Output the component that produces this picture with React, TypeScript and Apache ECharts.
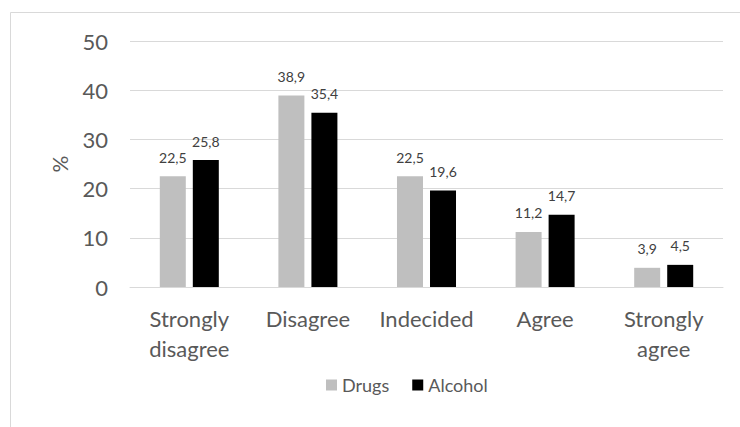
import React, { useEffect, useRef } from "react";
import * as echarts from "echarts";

const categories = ["Strongly\ndisagree", "Disagree", "Indecided", "Agree", "Strongly\nagree"];
const drugs = [22.5, 38.9, 22.5, 11.2, 3.9];
const alcohol = [25.8, 35.4, 19.6, 14.7, 4.5];
const seriesNames = ["Drugs", "Alcohol"];

const FONT = "Lato, 'Open Sans', sans-serif";

export default function App() {
  const ref = useRef<HTMLDivElement>(null);
  useEffect(() => {
    if (!ref.current) return;
    const chart = echarts.init(ref.current, undefined, { renderer: "svg" });
    const fmt = (p: any) => String(p.value).replace(".", ",");
    const labelStyle = {
      show: true,
      position: "top",
      distance: 12,
      fontSize: 14,
      color: "#404040",
      formatter: fmt,
      fontFamily: FONT,
    };
    chart.setOption({
      animation: false,
      backgroundColor: "#ffffff",
      textStyle: { fontFamily: FONT },
      graphic: [
        {
          type: "rect",
          shape: { x: 10.5, y: 12.5, width: 740, height: 430 },
          style: { fill: "none", stroke: "#D9D9D9", lineWidth: 1 },
          silent: true,
        },
      ],
      grid: { left: 130, right: 17, top: 41, bottom: 140, containLabel: false },
      legend: {
        data: seriesNames,
        left: 321,
        top: 371,
        itemWidth: 11,
        itemHeight: 11,
        itemGap: 23,
        icon: "rect",
        textStyle: { fontSize: 18, color: "#595959", fontFamily: FONT },
      },
      xAxis: {
        type: "category",
        data: categories,
        axisLine: { lineStyle: { color: "#D9D9D9", width: 1 } },
        axisTick: { show: false },
        axisLabel: {
          fontSize: 22,
          color: "#595959",
          lineHeight: 30,
          margin: 16,
          interval: 0,
          fontFamily: FONT,
        },
      },
      yAxis: {
        type: "value",
        min: 0,
        max: 50,
        interval: 10,
        name: "%",
        nameLocation: "middle",
        nameGap: 60,
        nameRotate: 90,
        nameTextStyle: { fontSize: 21, color: "#595959", fontFamily: FONT },
        axisLine: { show: false },
        axisTick: { show: false },
        splitLine: { lineStyle: { color: "#D9D9D9", width: 1 } },
        axisLabel: { fontSize: 22, color: "#595959", margin: 22, fontFamily: FONT },
      },
      series: [
        {
          name: seriesNames[0],
          type: "bar",
          data: drugs,
          barWidth: 26,
          barGap: "27%",
          itemStyle: { color: "#BFBFBF" },
          label: labelStyle,
        },
        {
          name: seriesNames[1],
          type: "bar",
          data: alcohol,
          barWidth: 26,
          barGap: "27%",
          itemStyle: { color: "#000000" },
          label: labelStyle,
        },
      ],
    });
    return () => chart.dispose();
  }, []);
  return (
    <div
      ref={ref}
      style={{ position: "absolute", left: 0, top: 0, width: 740, height: 427, background: "#fff" }}
    />
  );
}
